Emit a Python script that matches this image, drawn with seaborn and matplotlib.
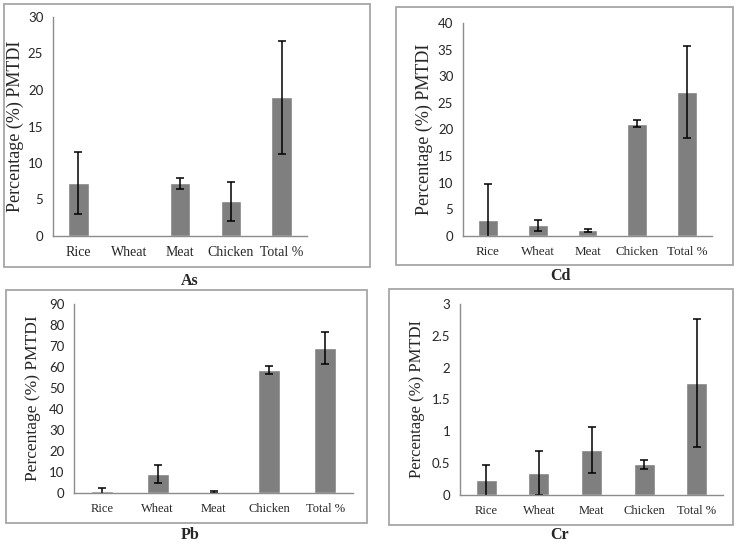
import matplotlib
matplotlib.use("Agg")
import matplotlib.pyplot as plt
from matplotlib.patches import Rectangle
import numpy as np
import pandas as pd
import seaborn as sns

# data (percentage of PMTDI)
foods = ["Rice", "Wheat", "Meat", "Chicken", "Total %"]

as_vals = [7.2, 0.0, 7.2, 4.75, 19.0]
as_err = [4.25, 0.0, 0.8, 2.65, 7.75]

cd_vals = [3.05, 2.0, 1.05, 21.05, 27.0]
cd_err = [6.8, 1.05, 0.25, 0.65, 8.6]

pb_vals = [1.0, 9.0, 0.5, 58.5, 69.0]
pb_err = [1.5, 4.1, 0.4, 1.75, 7.6]

cr_vals = [0.23, 0.34, 0.71, 0.48, 1.76]
cr_err = [0.245, 0.345, 0.357, 0.065, 1.0]

sns.set_style("white")
plt.rcParams["font.family"] = ["Liberation Serif", "DejaVu Serif"]

W, H = 740, 544
fig = plt.figure(figsize=(W / 100, H / 100), dpi=100)

BAR = "#7f7f7f"
SPINE = "#8c8c8c"
BOX = "#a6a6a6"


def px_rect(l, t, r, b):
    return [l / W, 1 - b / H, (r - l) / W, (b - t) / H]


def panel(rect, vals, errs, ymax, step, name, name_xy, lab_x, box,
          xfs=10, yfs=9, labfs=12.5, fmt="{:g}"):
    ax = fig.add_axes(px_rect(*rect))
    df = pd.DataFrame({"food": foods, "value": vals, "err": errs})
    sns.barplot(data=df, x="food", y="value", color=BAR, saturation=1,
                width=0.4, errorbar=None, ax=ax)
    # only bars that carry an error get a whisker
    idx = np.flatnonzero(df["err"].to_numpy() > 0)
    ax.errorbar(x=idx, y=df["value"].to_numpy()[idx], yerr=df["err"].to_numpy()[idx],
                fmt="none", ecolor="black", elinewidth=1.1, capsize=2.6, capthick=1.1)
    ax.set_xlim(-0.5, len(foods) - 0.5)
    ax.set_ylim(0, ymax)
    yt = np.arange(0, ymax + step / 2, step)
    ax.set_yticks(yt)
    ax.set_yticklabels([fmt.format(round(v, 2)) for v in yt],
                       family=["Lato", "DejaVu Sans"], fontsize=yfs)
    ax.set_xticks(range(len(foods)))
    ax.set_xticklabels(foods, fontsize=xfs)
    ax.set_xticks(np.arange(-0.5, len(foods)), minor=True)
    ax.tick_params(axis="x", which="major", length=0, pad=7)
    ax.tick_params(axis="x", which="minor", length=4, color=SPINE, direction="out")
    ax.tick_params(axis="y", length=4, color=SPINE, direction="out", pad=3)
    for s in ["top", "right"]:
        ax.spines[s].set_visible(False)
    for s in ["left", "bottom"]:
        ax.spines[s].set_color(SPINE)
        ax.spines[s].set_linewidth(1.0)
    ax.set_xlabel("")
    ax.set_ylabel("Percentage (%) PMTDI", fontsize=labfs, va="center")
    l, t, r, b = rect
    ax.yaxis.set_label_coords((lab_x - l) / (r - l), 0.5)
    # panel border
    bl, bt, br, bb = box
    fig.patches.append(Rectangle((bl / W, 1 - bb / H), (br - bl) / W, (bb - bt) / H,
                                 transform=fig.transFigure, fill=False,
                                 edgecolor=BOX, linewidth=1.3))
    fig.text(name_xy[0] / W, 1 - name_xy[1] / H, name, ha="center", va="center",
             fontsize=11.5, fontweight="bold")
    return ax


panel((53, 17, 307, 236), as_vals, as_err, 30, 5, "As", (190, 281), 15,
      (4, 4, 370, 267), xfs=10, yfs=9.5, labfs=13)
panel((463, 23, 712, 236), cd_vals, cd_err, 40, 5, "Cd", (560, 276), 424,
      (396, 7, 733, 265), xfs=9.4, yfs=9.5, labfs=13)
panel((74, 304, 353, 493), pb_vals, pb_err, 90, 10, "Pb", (190, 535), 33,
      (6, 290, 367, 523), xfs=9, yfs=9.5, labfs=12.5)
panel((460, 304, 723, 495), cr_vals, cr_err, 3, 0.5, "Cr", (560, 535), 417,
      (389, 289, 733, 525), xfs=9, yfs=9.5, labfs=12)

fig.savefig("out.png", dpi=100)
